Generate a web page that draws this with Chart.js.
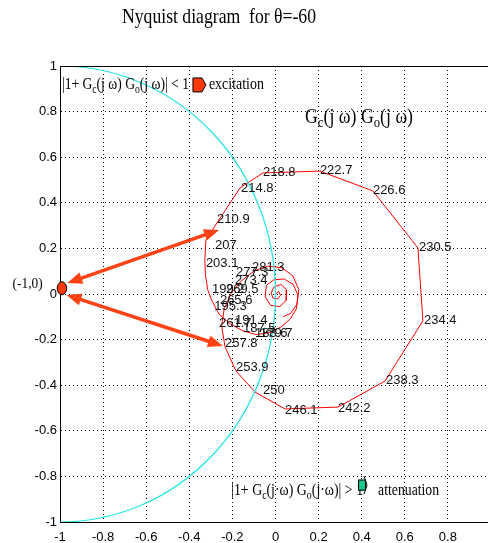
<!DOCTYPE html>
<html>
<head>
<meta charset="utf-8">
<script src="https://cdn.jsdelivr.net/npm/chart.js@4"></script>
<style>
  html, body { margin: 0; padding: 0; background: #fff; overflow: hidden; }
  canvas { display: block; }
</style>
</head>
<body>
<canvas id="nyquist" width="492" height="543"></canvas>
<script>
const nyqRe = [0.000, 0.015, 0.023, 0.010, -0.012, -0.020, -0.008, 0.025, 0.052, 0.050,
  0.020, -0.022, -0.048, -0.042, -0.008, 0.040, 0.082, 0.104, 0.097, 0.068,
  0.025, -0.030, -0.090, -0.155, -0.215, -0.262, -0.295, -0.315, -0.325, -0.328,
  -0.323, -0.281, -0.165, -0.058, 0.206, 0.452, 0.661, 0.684, 0.508, 0.290,
  0.044, -0.095, -0.183, -0.234, -0.250, -0.238, -0.205, -0.158, -0.098, -0.035,
  0.030, 0.080, 0.108, 0.100, 0.070, 0.035];
const nyqIm = [0.000, 0.012, -0.006, -0.022, -0.018, 0.005, 0.030, 0.042, 0.018, -0.028,
  -0.055, -0.050, -0.012, 0.038, 0.062, 0.066, 0.042, -0.005, -0.065, -0.110,
  -0.145, -0.170, -0.178, -0.160, -0.128, -0.088, -0.030, 0.020, 0.085, 0.150,
  0.237, 0.298, 0.465, 0.531, 0.539, 0.452, 0.202, -0.118, -0.382, -0.496,
  -0.504, -0.430, -0.338, -0.232, -0.140, -0.065, 0.005, 0.058, 0.102, 0.122,
  0.115, 0.080, 0.020, -0.045, -0.085, -0.100];

// frequency labels along the curve
const freqText = ['179.7', '183.6', '187.5', '191.4', '195.3', '199.2', '203.1', '207', '210.9',
  '214.8', '218.8', '222.7', '226.6', '230.5', '234.4', '238.3', '242.2', '246.1', '250',
  '253.9', '257.8', '261.7', '265.6', '269.5', '273.4', '277.3', '281.3'];
const freqRe = [-0.072, -0.095, -0.151, -0.188, -0.284, -0.295, -0.323, -0.281, -0.271,
  -0.160, -0.058, 0.206, 0.452, 0.666, 0.689, 0.513, 0.290, 0.044, -0.058,
  -0.183, -0.234, -0.262, -0.258, -0.230, -0.188, -0.183, -0.109];
const freqIm = [-0.171, -0.171, -0.149, -0.118, -0.053, 0.022, 0.132, 0.215, 0.325,
  0.465, 0.535, 0.544, 0.456, 0.206, -0.114, -0.377, -0.500, -0.509, -0.421,
  -0.320, -0.215, -0.127, -0.026, 0.022, 0.061, 0.096, 0.118];

// |1 + GcGo| = 1 circle around the critical point
const critPoint = [-1, 0];
const critRadius = 1;

// arrows between (-1,0) and the curve
const arrowFrom = [[-0.966, 0.048], [-0.970, -0.004]];
const arrowTo = [[-0.262, 0.281], [-0.244, -0.228]];

const SANS = '"Liberation Sans", Arial, sans-serif';
const SERIF = '"Liberation Serif", "Times New Roman", serif';

function tickLabel(v, hideTop) {
  const r = Math.round(v * 10) / 10;
  if (hideTop && r === 1) return '';
  return String(r);
}

// draw text runs (with subscripts), squeezed to a given width
function drawRuns(ctx, runs, x, y, size, width) {
  const sub = Math.round(size * 0.72);
  let total = 0;
  runs.forEach(r => {
    ctx.font = (r[1] ? sub : size) + 'px ' + SERIF;
    total += ctx.measureText(r[0]).width;
  });
  ctx.save();
  ctx.translate(x, y);
  ctx.scale(width / total, 1);
  ctx.fillStyle = '#000';
  ctx.textBaseline = 'middle';
  ctx.textAlign = 'left';
  let cx = 0;
  runs.forEach(r => {
    ctx.font = (r[1] ? sub : size) + 'px ' + SERIF;
    ctx.fillText(r[0], cx, r[1] ? size * 0.3 : 0);
    cx += ctx.measureText(r[0]).width;
  });
  ctx.restore();
}

function arrowHead(ctx, tx, ty, fx, fy, len, half) {
  const a = Math.atan2(ty - fy, tx - fx);
  const bx = tx - len * Math.cos(a), by = ty - len * Math.sin(a);
  ctx.beginPath();
  ctx.moveTo(tx, ty);
  ctx.lineTo(bx + half * Math.sin(a), by - half * Math.cos(a));
  ctx.lineTo(bx - half * Math.sin(a), by + half * Math.cos(a));
  ctx.closePath();
  ctx.fill();
}

const overlay = {
  id: 'overlay',
  afterDatasetsDraw(chart) {
    const ctx = chart.ctx;
    const xs = chart.scales.x, ys = chart.scales.y;
    const area = chart.chartArea;
    const px = v => xs.getPixelForValue(v);
    const py = v => ys.getPixelForValue(v);

    // cyan circle
    ctx.save();
    ctx.beginPath();
    ctx.rect(area.left, area.top, area.right - area.left, area.bottom - area.top);
    ctx.clip();
    const cx = px(critPoint[0]), cy = py(critPoint[1]);
    ctx.beginPath();
    ctx.ellipse(cx, cy, px(critPoint[0] + critRadius) - cx, cy - py(critPoint[1] + critRadius), 0, 0, Math.PI * 2);
    ctx.strokeStyle = '#22e4e4';
    ctx.lineWidth = 1.2;
    ctx.stroke();
    ctx.restore();

    // top border
    ctx.save();
    ctx.strokeStyle = '#000';
    ctx.lineWidth = 1;
    ctx.beginPath();
    ctx.moveTo(area.left, area.top + 0.5);
    ctx.lineTo(area.right, area.top + 0.5);
    ctx.stroke();
    ctx.restore();

    // frequency labels
    ctx.save();
    ctx.font = '13px ' + SANS;
    ctx.fillStyle = '#111';
    ctx.textBaseline = 'middle';
    ctx.textAlign = 'left';
    freqText.forEach((t, i) => ctx.fillText(t, px(freqRe[i]), py(freqIm[i])));
    ctx.restore();

    // arrows
    ctx.save();
    ctx.strokeStyle = '#ff4214';
    ctx.fillStyle = '#ff4214';
    ctx.lineWidth = 3.5;
    arrowFrom.forEach((f, i) => {
      const x1 = px(f[0]), y1 = py(f[1]);
      const x2 = px(arrowTo[i][0]), y2 = py(arrowTo[i][1]);
      const a = Math.atan2(y2 - y1, x2 - x1);
      ctx.beginPath();
      ctx.moveTo(x1 + 12 * Math.cos(a), y1 + 12 * Math.sin(a));
      ctx.lineTo(x2 - 12 * Math.cos(a), y2 - 12 * Math.sin(a));
      ctx.stroke();
      arrowHead(ctx, x1, y1, x2, y2, 15, 6);
      arrowHead(ctx, x2, y2, x1, y1, 15, 6);
    });
    ctx.restore();

    // critical point marker
    ctx.save();
    ctx.beginPath();
    ctx.ellipse(px(-0.991), py(0.025), 4.7, 6.5, 0, 0, Math.PI * 2);
    ctx.fillStyle = '#ff3a0a';
    ctx.fill();
    ctx.strokeStyle = '#000';
    ctx.lineWidth = 1;
    ctx.stroke();
    ctx.restore();

    // annotations
    drawRuns(ctx, [['(-1,0)']], px(-1.22), py(0.044), 15, 30);
    drawRuns(ctx, [['|1+ G'], ['c', 1], ['(j \u03c9) G'], ['o', 1], ['(j \u03c9)| < 1']], px(-0.991), py(0.917), 17, 127);
    drawRuns(ctx, [['excitation']], px(-0.309), py(0.917), 17, 55);
    drawRuns(ctx, [['G'], ['c', 1], ['(j \u03c9) G'], ['o', 1], ['(j \u03c9)']], px(0.137), py(0.776), 21, 108);
    drawRuns(ctx, [['|1+ G'], ['c', 1], ['(j\u00b7\u03c9) G'], ['o', 1], ['(j\u00b7\u03c9)| > 1']], px(-0.206), py(-0.864), 17, 132);
    drawRuns(ctx, [['attenuation']], px(0.476), py(-0.864), 17, 61);

    // legend icons
    ctx.save();
    ctx.lineWidth = 1;
    ctx.strokeStyle = '#000';
    let ix = px(-0.383), iy = py(0.917);
    ctx.beginPath();
    ctx.moveTo(ix, iy - 7);
    ctx.lineTo(ix + 9, iy - 7);
    ctx.lineTo(ix + 13, iy);
    ctx.lineTo(ix + 9, iy + 7);
    ctx.lineTo(ix, iy + 7);
    ctx.closePath();
    ctx.fillStyle = '#ff3a0a';
    ctx.fill();
    ctx.stroke();
    ix = px(0.383); iy = py(-0.838);
    ctx.fillStyle = '#14c88c';
    ctx.fillRect(ix, iy - 5.5, 8, 11);
    ctx.strokeRect(ix + 0.5, iy - 5, 7, 10);
    ctx.beginPath();
    ctx.moveTo(ix + 6, iy - 9);
    ctx.lineTo(ix + 9, iy);
    ctx.lineTo(ix + 6, iy + 9);
    ctx.stroke();
    ctx.restore();
  },
  afterDraw(chart) {
    drawRuns(chart.ctx, [['Nyquist diagram  for \u03b8=-60']], 122, 17, 21, 194);
  }
};

function axisOptions(isX) {
  return {
    type: 'linear',
    min: -1,
    max: 1,
    afterFit: s => { if (isX) s.height = 21; else s.width = 60; },
    ticks: {
      stepSize: 0.2,
      padding: 0,
      autoSkip: false,
      maxRotation: 0,
      color: '#000',
      font: { family: SANS, size: 13 },
      callback: v => tickLabel(v, isX)
    },
    grid: {
      drawTicks: true,
      tickLength: isX ? 8 : 3,
      tickColor: 'rgba(0,0,0,0)',
      lineWidth: 1,
      color: c => (c.tick && Math.abs(Math.abs(c.tick.value) - 1) < 1e-6) ? 'rgba(0,0,0,0)' : '#000'
    },
    border: { display: true, color: '#000', width: 1, dash: [1, 3] }
  };
}

new Chart(document.getElementById('nyquist').getContext('2d'), {
  type: 'scatter',
  data: {
    datasets: [{
      data: nyqRe.map((x, i) => ({ x: x, y: nyqIm[i] })),
      showLine: true,
      borderColor: '#ff0000',
      borderWidth: 1,
      pointRadius: 0,
      tension: 0
    }]
  },
  options: {
    responsive: false,
    animation: false,
    events: [],
    layout: { padding: { top: 66, right: 1, left: 0, bottom: 0 } },
    plugins: { legend: { display: false }, tooltip: { enabled: false } },
    scales: { x: axisOptions(true), y: axisOptions(false) }
  },
  plugins: [overlay]
});
</script>
</body>
</html>
